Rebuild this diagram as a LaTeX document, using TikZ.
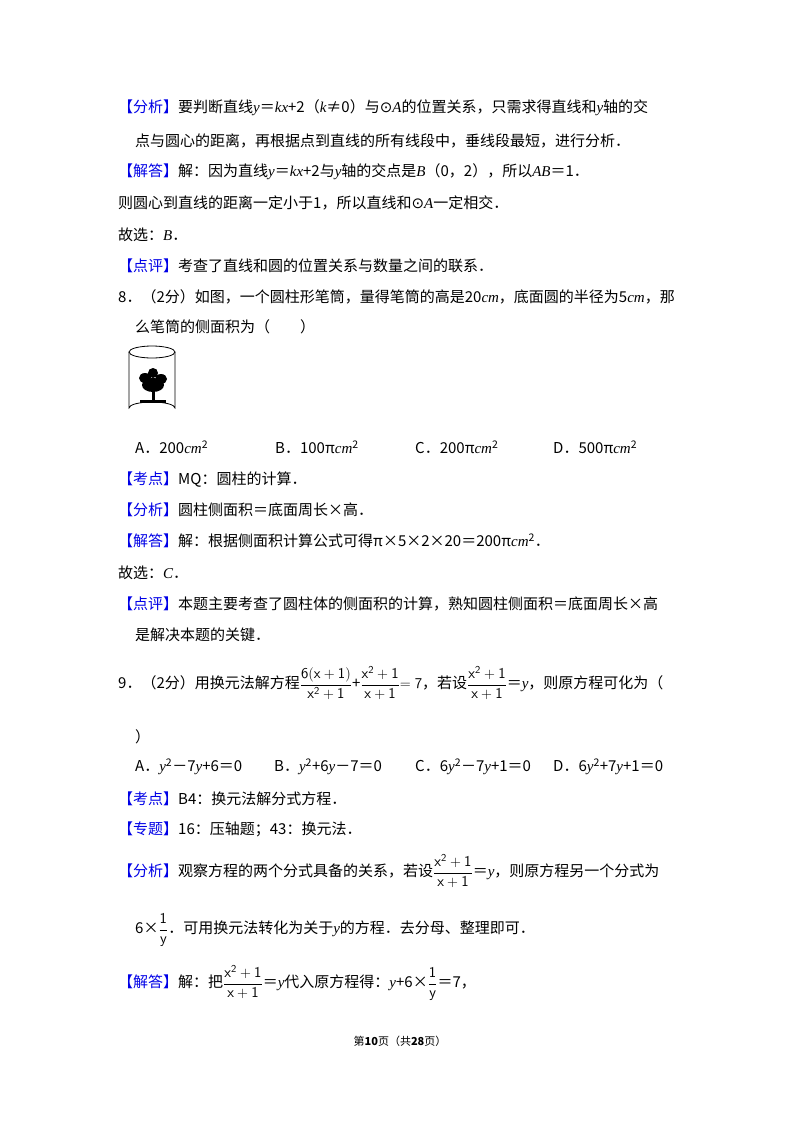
\documentclass[tikz,border=0pt]{standalone}
\usepackage{fontspec}
\usepackage{amsmath}
\setmainfont{Liberation Serif}
\newfontfamily\cjk{Noto Sans CJK SC}
\newfontfamily\latin{Liberation Serif}
\newfontfamily\symf{DejaVu Sans}
\definecolor{kblue}{RGB}{0,0,230}
\newcommand{\kd}[1]{{\color{kblue}【#1】}}
\newcommand{\vi}[1]{{\latin\itshape #1}}
\newcommand{\fr}[2]{$\dfrac{\mathsf{#1}}{\mathsf{#2}}$}
\tikzset{txt/.style={anchor=west,inner sep=0pt,font=\cjk\fontsize{15}{18}\selectfont}}
\begin{document}
\begin{tikzpicture}[x=1pt,y=-1pt]
\useasboundingbox (0,0) rectangle (800,1132);
\node[txt] (l1) at (118,108) {\kd{分析}要判断直线\vi{y}＝\vi{kx}+2（\vi{k}≠0）与{\symf⊙}\vi{A}的位置关系，只需求得直线和\vi{y}轴的交};
\node[txt] (l2) at (135,141) {点与圆心的距离，再根据点到直线的所有线段中，垂线段最短，进行分析．};
\node[txt] (l3) at (118,172) {\kd{解答}解：因为直线\vi{y}＝\vi{kx}+2与\vi{y}轴的交点是\vi{B}（0，2），所以\vi{AB}＝1．};
\node[txt] (l4) at (118,203) {则圆心到直线的距离一定小于1，所以直线和{\symf⊙}\vi{A}一定相交．};
\node[txt] (l5) at (118,235) {故选：\vi{B}．};
\node[txt] (l6) at (118,266) {\kd{点评}考查了直线和圆的位置关系与数量之间的联系．};
\node[txt] (l7) at (118,297) {8．（2分）如图，一个圆柱形笔筒，量得笔筒的高是20\vi{cm}，底面圆的半径为5\vi{cm}，那};
\node[txt] (l8) at (135,327) {么笔筒的侧面积为（\quad\quad）};
% cylinder
\draw[thick] (152,352) ellipse (23 and 6);
\draw[thick] (129,352) -- (129,408) arc (180:360:23 and 6) -- (175,352);
\fill (152,400) rectangle (155,384);
\fill (153,385) ellipse (11 and 7);
\fill (145,378) ellipse (6 and 5) (161,379) ellipse (6 and 5) (153,373) ellipse (5 and 5);
\fill (140,400) rectangle (166,403);
\node[txt] (a8) at (135,447) {A．200\vi{cm}\textsuperscript{2}};
\node[txt] (b8) at (275,447) {B．100π\vi{cm}\textsuperscript{2}};
\node[txt] (c8) at (415,447) {C．200π\vi{cm}\textsuperscript{2}};
\node[txt] (d8) at (553,447) {D．500π\vi{cm}\textsuperscript{2}};
\node[txt] (l10) at (118,480) {\kd{考点}MQ：圆柱的计算．};
\node[txt] (l11) at (118,510) {\kd{分析}圆柱侧面积＝底面周长×高．};
\node[txt] (l12) at (118,541) {\kd{解答}解：根据侧面积计算公式可得π×5×2×20＝200π\vi{cm}\textsuperscript{2}．};
\node[txt] (l13) at (118,573) {故选：\vi{C}．};
\node[txt] (l14) at (118,604) {\kd{点评}本题主要考查了圆柱体的侧面积的计算，熟知圆柱侧面积＝底面周长×高};
\node[txt] (l15) at (135,635) {是解决本题的关键．};
\node[txt] (l16) at (118,683) {9．（2分）用换元法解方程\fr{6(x+1)}{x^2+1}+\fr{x^2+1}{x+1}$\mathsf{=7}$，若设\fr{x^2+1}{x+1}＝\vi{y}，则原方程可化为（};
\node[txt] (l17) at (135,737) {）};
\node[txt] (a9) at (135,767) {A．\vi{y}\textsuperscript{2}－7\vi{y}+6＝0};
\node[txt] (b9) at (274,767) {B．\vi{y}\textsuperscript{2}+6\vi{y}－7＝0};
\node[txt] (c9) at (415,767) {C．6\vi{y}\textsuperscript{2}－7\vi{y}+1＝0};
\node[txt] (d9) at (553,767) {D．6\vi{y}\textsuperscript{2}+7\vi{y}+1＝0};
\node[txt] (l19) at (118,799) {\kd{考点}B4：换元法解分式方程．};
\node[txt] (l20) at (118,829) {\kd{专题}16：压轴题；43：换元法．};
\node[txt] (l21) at (118,871) {\kd{分析}观察方程的两个分式具备的关系，若设\fr{x^2+1}{x+1}＝\vi{y}，则原方程另一个分式为};
\node[txt] (l22) at (135,930) {6×\fr{1}{y}．可用换元法转化为关于\vi{y}的方程．去分母、整理即可．};
\node[txt] (l23) at (118,983) {\kd{解答}解：把\fr{x^2+1}{x+1}＝\vi{y}代入原方程得：\vi{y}+6×\fr{1}{y}＝7，};
\node[anchor=center,font=\cjk\fontsize{11}{13}\selectfont] (ft) at (400,1041) {第\textbf{10}页（共\textbf{28}页）};
\end{tikzpicture}
\end{document}
